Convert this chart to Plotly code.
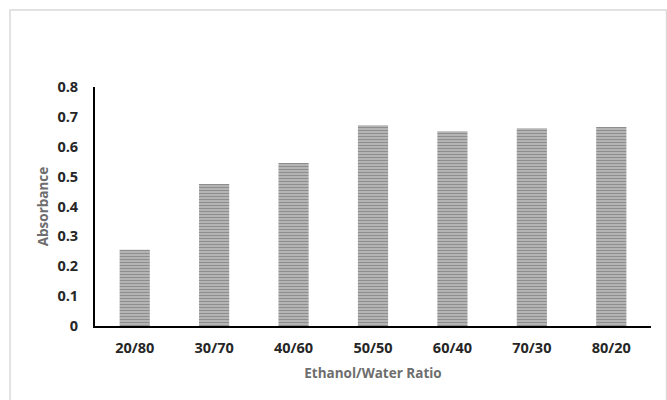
import plotly.graph_objects as go

ratios = ["20/80", "30/70", "40/60", "50/50", "60/40", "70/30", "80/20"]
absorbance = [0.255, 0.475, 0.546, 0.672, 0.652, 0.662, 0.666]
y_ticks = [0, 0.1, 0.2, 0.3, 0.4, 0.5, 0.6, 0.7, 0.8]
y_tick_text = ["0", "0.1", "0.2", "0.3", "0.4", "0.5", "0.6", "0.7", "0.8"]

fig = go.Figure()
fig.add_trace(go.Bar(
    x=ratios, y=absorbance, width=0.38,
    marker=dict(color="#a0a0a0", line=dict(width=0),
                pattern=dict(shape="-", fgcolor="#5c5c5c", bgcolor="#c0c0c0",
                             size=3, solidity=0.5)),
))

font = "Open Sans, Liberation Sans, Arial, sans-serif"
fig.update_layout(
    width=667, height=400,
    margin=dict(l=95, r=16, t=87, b=74),
    paper_bgcolor="white", plot_bgcolor="white",
    showlegend=False,
    xaxis=dict(showline=True, linecolor="black", linewidth=2, showgrid=False,
               ticks="", ticklabelstandoff=8,
               tickfont=dict(family=font, size=14.5, color="#262626", weight="bold"),
               title=dict(text="Ethanol/Water Ratio", standoff=12,
                          font=dict(family=font, size=13.5, color="#6e6e6e", weight="bold"))),
    yaxis=dict(range=[0, 0.8], tickvals=y_ticks, ticktext=y_tick_text,
               showline=True, linecolor="black", linewidth=2, showgrid=False,
               zeroline=False, ticks="", ticklabelstandoff=12,
               tickfont=dict(family=font, size=14.5, color="#262626", weight="bold"),
               title=dict(text="Absorbance", standoff=6,
                          font=dict(family=font, size=13.5, color="#6e6e6e", weight="bold"))),
    shapes=[dict(type="rect", xref="paper", yref="paper",
                 x0=-0.1529, x1=1.0279, y0=-0.32, y1=1.3222,
                 line=dict(color="#d9d9d9", width=1.5), layer="below")],
)

fig.write_html("out.html")
